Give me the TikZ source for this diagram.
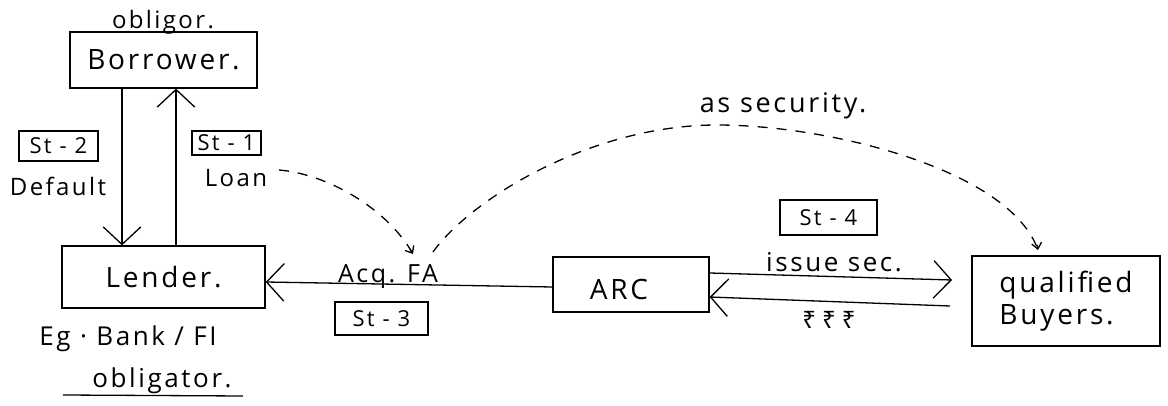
\documentclass[tikz,border=0pt]{standalone}
\usepackage{fontspec}
\setmainfont[LetterSpace=10]{Open Sans}
\newfontfamily\rupeefont{Noto Sans}
\usetikzlibrary{arrows.meta}
\begin{document}
\begin{tikzpicture}[x=1pt,y=-1pt,line width=1.3pt,
  box/.style={draw,inner sep=2pt,font=\fontsize{28}{33}\selectfont},
  stbox/.style={draw,inner sep=1pt,font=\fontsize{22}{26}\selectfont},
  lbl/.style={inner sep=0pt,anchor=base,font=\fontsize{24}{28}\selectfont},
  arr/.style={-{Straight Barb[length=14pt,width=30pt,line width=1.3pt,scale=1.25]}},
  dsh/.style={dash pattern=on 10pt off 9pt,line width=1.3pt},
  tip/.style={-{Straight Barb[length=6pt,width=10pt,line width=1.3pt]}}]
\useasboundingbox (0,0) rectangle (1168,406);
% main boxes
\node[box,minimum width=187pt,minimum height=56pt] (borrower) at (163.5,60) {Borrower.};
\node[box,minimum width=203pt,minimum height=62pt] (lender) at (163.5,277) {Lender.};
\node[box,minimum width=156pt,minimum height=55pt] (arc) at (631,284.5) {};
\node[lbl,font=\fontsize{28}{33}\selectfont] (arctext) at (619,300) {ARC};
\node[box,minimum width=188pt,minimum height=90pt,align=left,font=\fontsize{28}{32}\selectfont] (qb) at (1066,301) {qualified\\Buyers.};
% step boxes
\node[stbox,minimum width=79pt,minimum height=30pt] (st2) at (58.5,146) {St - 2};
\node[stbox,minimum width=69pt,minimum height=24pt] (st1) at (226.5,143) {St - 1};
\node[stbox,minimum width=93pt,minimum height=33pt] (st3) at (381.5,318.5) {St - 3};
\node[stbox,minimum width=97pt,minimum height=35pt] (st4) at (828.5,217.5) {St - 4};
% labels
\node[lbl] (obligor) at (163,29) {obligor.};
\node[lbl] (default) at (58,196) {Default};
\node[lbl] (loan) at (236,187) {Loan};
\node[lbl,font=\fontsize{26}{30}\selectfont] (eg) at (128,345) {Eg · Bank / FI};
\node[lbl,font=\fontsize{26}{30}\selectfont] (obligator) at (162,387) {obligator.};
\coordinate (ulA) at (63,395);
\coordinate (ulB) at (243,396);
\draw (ulA) -- (ulB);
\node[lbl,font=\fontsize{25}{29}\selectfont] (acq) at (388,283) {Acq. FA};
\node[lbl,font=\fontsize{26}{30}\selectfont] (issue) at (834,272) {issue sec.};
\node[inner sep=0pt,font=\rupeefont\fontsize{24}{28}\selectfont] (rupee) at (829,320) {₹\hspace{6pt}₹\hspace{6pt}₹};
\node[lbl,font=\fontsize{27}{31}\selectfont] (secur) at (783,113) {as security.};
% solid arrows
\draw[arr] ([xshift=-41.5pt]borrower.south) -- ([xshift=-41.5pt]lender.north);
\draw[arr] ([xshift=12.5pt]lender.north) -- ([xshift=12.5pt]borrower.south);
\draw[arr] ([yshift=-2.5pt]arc.west) -- ([yshift=-5pt]lender.east);
\coordinate (issueEnd) at (952,280);
\coordinate (rupeeStart) at (950,306);
\draw[arr] ([yshift=11.5pt]arc.east) -- (issueEnd);
\draw[arr] (rupeeStart) -- ([yshift=-12.5pt]arc.east);
% dashed curves
\coordinate (loanEnd) at (279,170);
\coordinate (faTip) at (413,254);
\coordinate (faStart) at (433,252);
\coordinate (peak) at (717,125);
\coordinate (qbTip) at (1038,250);
\draw[dsh] (loanEnd) .. controls (327,174) and (387,208) .. (faTip);
\draw[tip] ([shift={(-3pt,5pt)}]faTip) -- (faTip);
\draw[dsh] (faStart) .. controls (470,200) and (590,125) .. (peak)
  .. controls (830,125) and (1010,170) .. (qbTip);
\draw[tip] ([shift={(-1pt,5pt)}]qbTip) -- (qbTip);
\end{tikzpicture}
\end{document}
